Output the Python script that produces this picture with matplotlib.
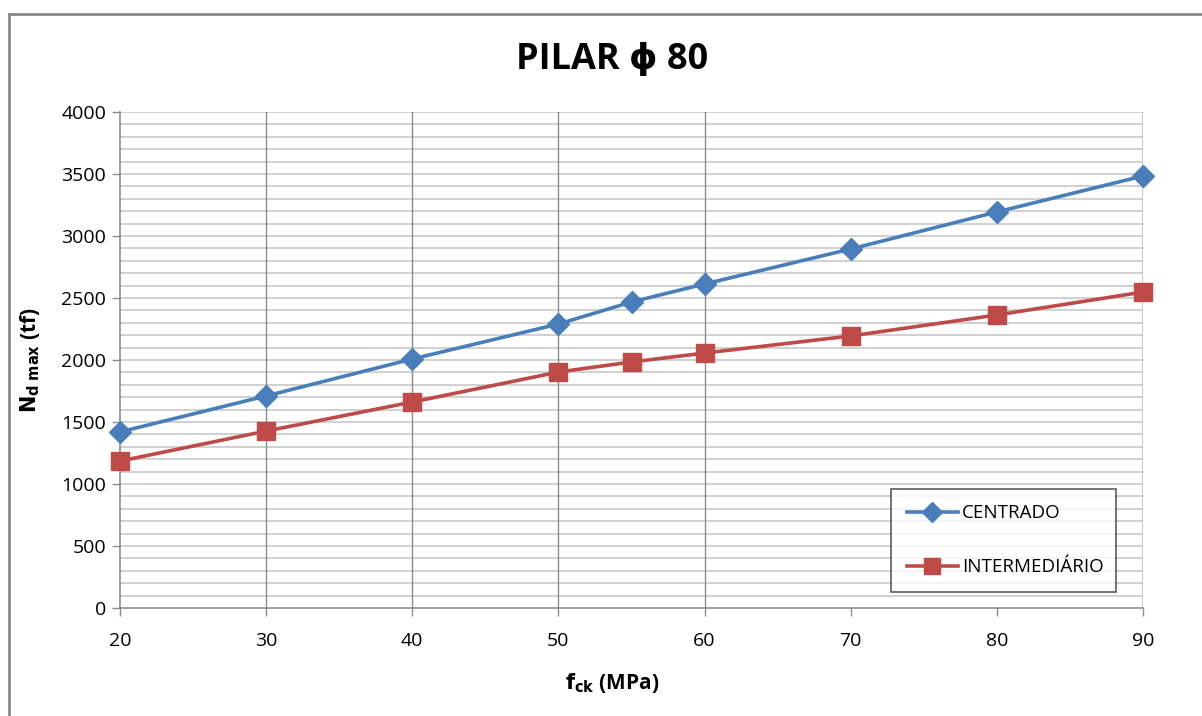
import matplotlib
matplotlib.use("Agg")
import matplotlib.pyplot as plt
from matplotlib.lines import Line2D
import numpy as np

fck = [20, 30, 40, 50, 55, 60, 70, 80, 90]
centrado = [1420, 1710, 2008, 2290, 2468, 2613, 2895, 3194, 3484]
intermediario = [1185, 1427, 1661, 1903, 1984, 2056, 2194, 2363, 2548]
x_ticks = [20, 30, 40, 50, 60, 70, 80, 90]
y_ticks = [0, 500, 1000, 1500, 2000, 2500, 3000, 3500, 4000]

plt.rcParams['font.family'] = ['Open Sans', 'DejaVu Sans']

W, H = 1202, 716
fig = plt.figure(figsize=(W / 100, H / 100), dpi=100)
ax = fig.add_axes([120 / W, 1 - 608 / H, (1143 - 120) / W, (608 - 112) / H])

blue = '#4A7EBB'
red = '#BE4B48'

# grid
for yv in np.arange(100, 4001, 100):
    ax.axhline(yv, color='#C8C8C8', lw=1.2, zorder=0)
for xv in [30, 40, 50, 60]:
    ax.axvline(xv, color='#8C8C8C', lw=1.0, zorder=0)
ax.axvline(90, color='#BDBDBD', lw=1.2, zorder=0)

ax.plot(fck, centrado, color=blue, lw=2.6, marker='D', markersize=11, label='CENTRADO', zorder=3, clip_on=False)
ax.plot(fck, intermediario, color=red, lw=2.6, marker='s', markersize=13, label='INTERMEDIÁRIO', zorder=3, clip_on=False)

ax.set_xlim(20, 90)
ax.set_ylim(0, 4000)
ax.set_xticks(x_ticks)
ax.set_yticks(y_ticks)
ax.tick_params(axis='both', labelsize=14, length=6, color='#8C8C8C', width=1, direction='out')
ax.tick_params(axis='x', pad=11)
ax.tick_params(axis='y', pad=4)
for s in ['top', 'right']:
    ax.spines[s].set_visible(False)
for s in ['left', 'bottom']:
    ax.spines[s].set_color('#8C8C8C')
    ax.spines[s].set_linewidth(1.2)

fig.text(612 / W, 1 - 60 / H, 'PILAR ϕ 80', ha='center', va='center', fontsize=26, fontweight='bold')
fig.text(30 / W, 1 - 360 / H, r'$\mathbf{N_{d\ max}}$ (tf)', rotation=90, ha='center', va='center',
         fontsize=15, fontweight='bold')
fig.text(612 / W, 1 - 683 / H, r'$\mathbf{f_{ck}}$ (MPa)', ha='center', va='center',
         fontsize=15, fontweight='bold')

leg = ax.legend(loc='lower left', bbox_to_anchor=((891 - 120) / (1143 - 120), (608 - 592) / (608 - 112),
                                                  (1116 - 891) / (1143 - 120), (592 - 480) / (608 - 112)),
                mode='expand', fontsize=13.5, frameon=True, fancybox=False, edgecolor='#333333',
                labelspacing=1.9, handlelength=2.7, handletextpad=0.25, borderpad=0.85,
                borderaxespad=0, markerscale=0.9)
leg.get_frame().set_linewidth(1.2)

# outer chart border
fig.add_artist(Line2D([9 / W, 9 / W], [0, 1 - 14 / H], color='#8A8A8A', lw=2, transform=fig.transFigure))
fig.add_artist(Line2D([9 / W, 1], [1 - 14 / H, 1 - 14 / H], color='#8A8A8A', lw=2, transform=fig.transFigure))

fig.savefig('out.png', dpi=100)
